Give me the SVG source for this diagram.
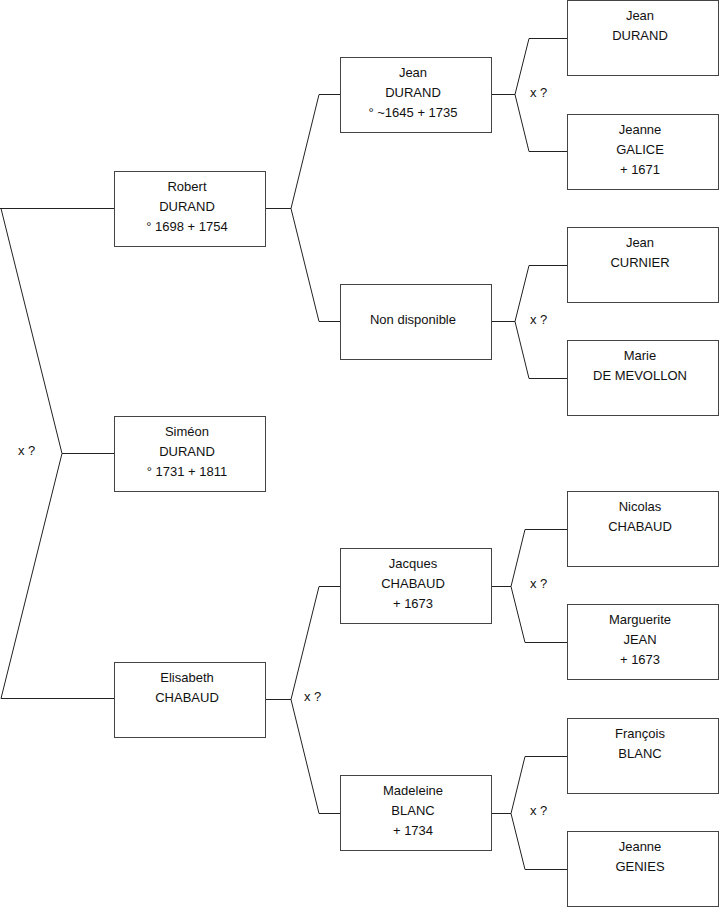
<svg xmlns="http://www.w3.org/2000/svg" width="719" height="908" viewBox="0 0 719 908">
<style>
.box{fill:#fff;stroke:#444;stroke-width:1}
.ln{fill:none;stroke:#222;stroke-width:1}
text{font-family:"Liberation Sans",Arial,sans-serif;font-size:13px;fill:#111}
.c{text-anchor:middle}
</style>
<rect width="719" height="908" fill="#fff"/>
<g id="connectors">
<path class="ln" d="M0,208.5 H114.5 M1,208.5 L62,453.5 L1,698.5 H114.5 M62,453.5 H114.5"/>
<path class="ln" d="M265.5,208.5 H291 L319,94.5 H340.5 M291,208.5 L319,321.5 H340.5"/>
<path class="ln" d="M265.5,699.5 H291 L319,586.5 H340.5 M291,699.5 L319,813.5 H340.5"/>
<path class="ln" d="M491.5,94.5 H515 L529,38.5 H567.5 M515,94.5 L529,151.5 H567.5"/>
<path class="ln" d="M491.5,321.5 H515 L529,265.5 H567.5 M515,321.5 L529,378.5 H567.5"/>
<path class="ln" d="M491.5,586.5 H511 L525,529.5 H567.5 M511,586.5 L525,642.5 H567.5"/>
<path class="ln" d="M491.5,813.5 H511 L525,756.5 H567.5 M511,813.5 L525,869.5 H567.5"/>
<text x="18" y="455">x ?</text>
<text x="304" y="701">x ?</text>
<text x="530" y="97">x ?</text>
<text x="530" y="324">x ?</text>
<text x="530" y="588">x ?</text>
<text x="530" y="815">x ?</text>
</g>
<g id="robert"><rect class="box" x="114.5" y="171.5" width="151" height="75"/><text class="c" x="187" y="191">Robert</text><text class="c" x="187" y="211">DURAND</text><text class="c" x="187" y="231">° 1698 + 1754</text></g>
<g id="simeon"><rect class="box" x="114.5" y="416.5" width="151" height="75"/><text class="c" x="187" y="436">Siméon</text><text class="c" x="187" y="456">DURAND</text><text class="c" x="187" y="476">° 1731 + 1811</text></g>
<g id="elisabeth"><rect class="box" x="114.5" y="662.5" width="151" height="75"/><text class="c" x="187" y="682">Elisabeth</text><text class="c" x="187" y="702">CHABAUD</text></g>
<g id="jean1"><rect class="box" x="340.5" y="57.5" width="151" height="75"/><text class="c" x="413" y="77">Jean</text><text class="c" x="413" y="97">DURAND</text><text class="c" x="413" y="117">° ~1645 + 1735</text></g>
<g id="nondispo"><rect class="box" x="340.5" y="284.5" width="151" height="75"/><text class="c" x="413" y="324">Non disponible</text></g>
<g id="jacques"><rect class="box" x="340.5" y="548.5" width="151" height="75"/><text class="c" x="413" y="568">Jacques</text><text class="c" x="413" y="588">CHABAUD</text><text class="c" x="413" y="608">+ 1673</text></g>
<g id="madeleine"><rect class="box" x="340.5" y="775.5" width="151" height="75"/><text class="c" x="413" y="795">Madeleine</text><text class="c" x="413" y="815">BLANC</text><text class="c" x="413" y="835">+ 1734</text></g>
<g id="jean2"><rect class="box" x="567.5" y="0.5" width="151" height="75"/><text class="c" x="640" y="20">Jean</text><text class="c" x="640" y="40">DURAND</text></g>
<g id="jeanne-galice"><rect class="box" x="567.5" y="114.5" width="151" height="75"/><text class="c" x="640" y="134">Jeanne</text><text class="c" x="640" y="154">GALICE</text><text class="c" x="640" y="174">+ 1671</text></g>
<g id="jean-curnier"><rect class="box" x="567.5" y="227.5" width="151" height="75"/><text class="c" x="640" y="247">Jean</text><text class="c" x="640" y="267">CURNIER</text></g>
<g id="marie"><rect class="box" x="567.5" y="340.5" width="151" height="75"/><text class="c" x="640" y="360">Marie</text><text class="c" x="640" y="380">DE MEVOLLON</text></g>
<g id="nicolas"><rect class="box" x="567.5" y="491.5" width="151" height="75"/><text class="c" x="640" y="511">Nicolas</text><text class="c" x="640" y="531">CHABAUD</text></g>
<g id="marguerite"><rect class="box" x="567.5" y="604.5" width="151" height="75"/><text class="c" x="640" y="624">Marguerite</text><text class="c" x="640" y="644">JEAN</text><text class="c" x="640" y="664">+ 1673</text></g>
<g id="francois"><rect class="box" x="567.5" y="718.5" width="151" height="75"/><text class="c" x="640" y="738">François</text><text class="c" x="640" y="758">BLANC</text></g>
<g id="jeanne-genies"><rect class="box" x="567.5" y="831.5" width="151" height="75"/><text class="c" x="640" y="851">Jeanne</text><text class="c" x="640" y="871">GENIES</text></g>
</svg>
